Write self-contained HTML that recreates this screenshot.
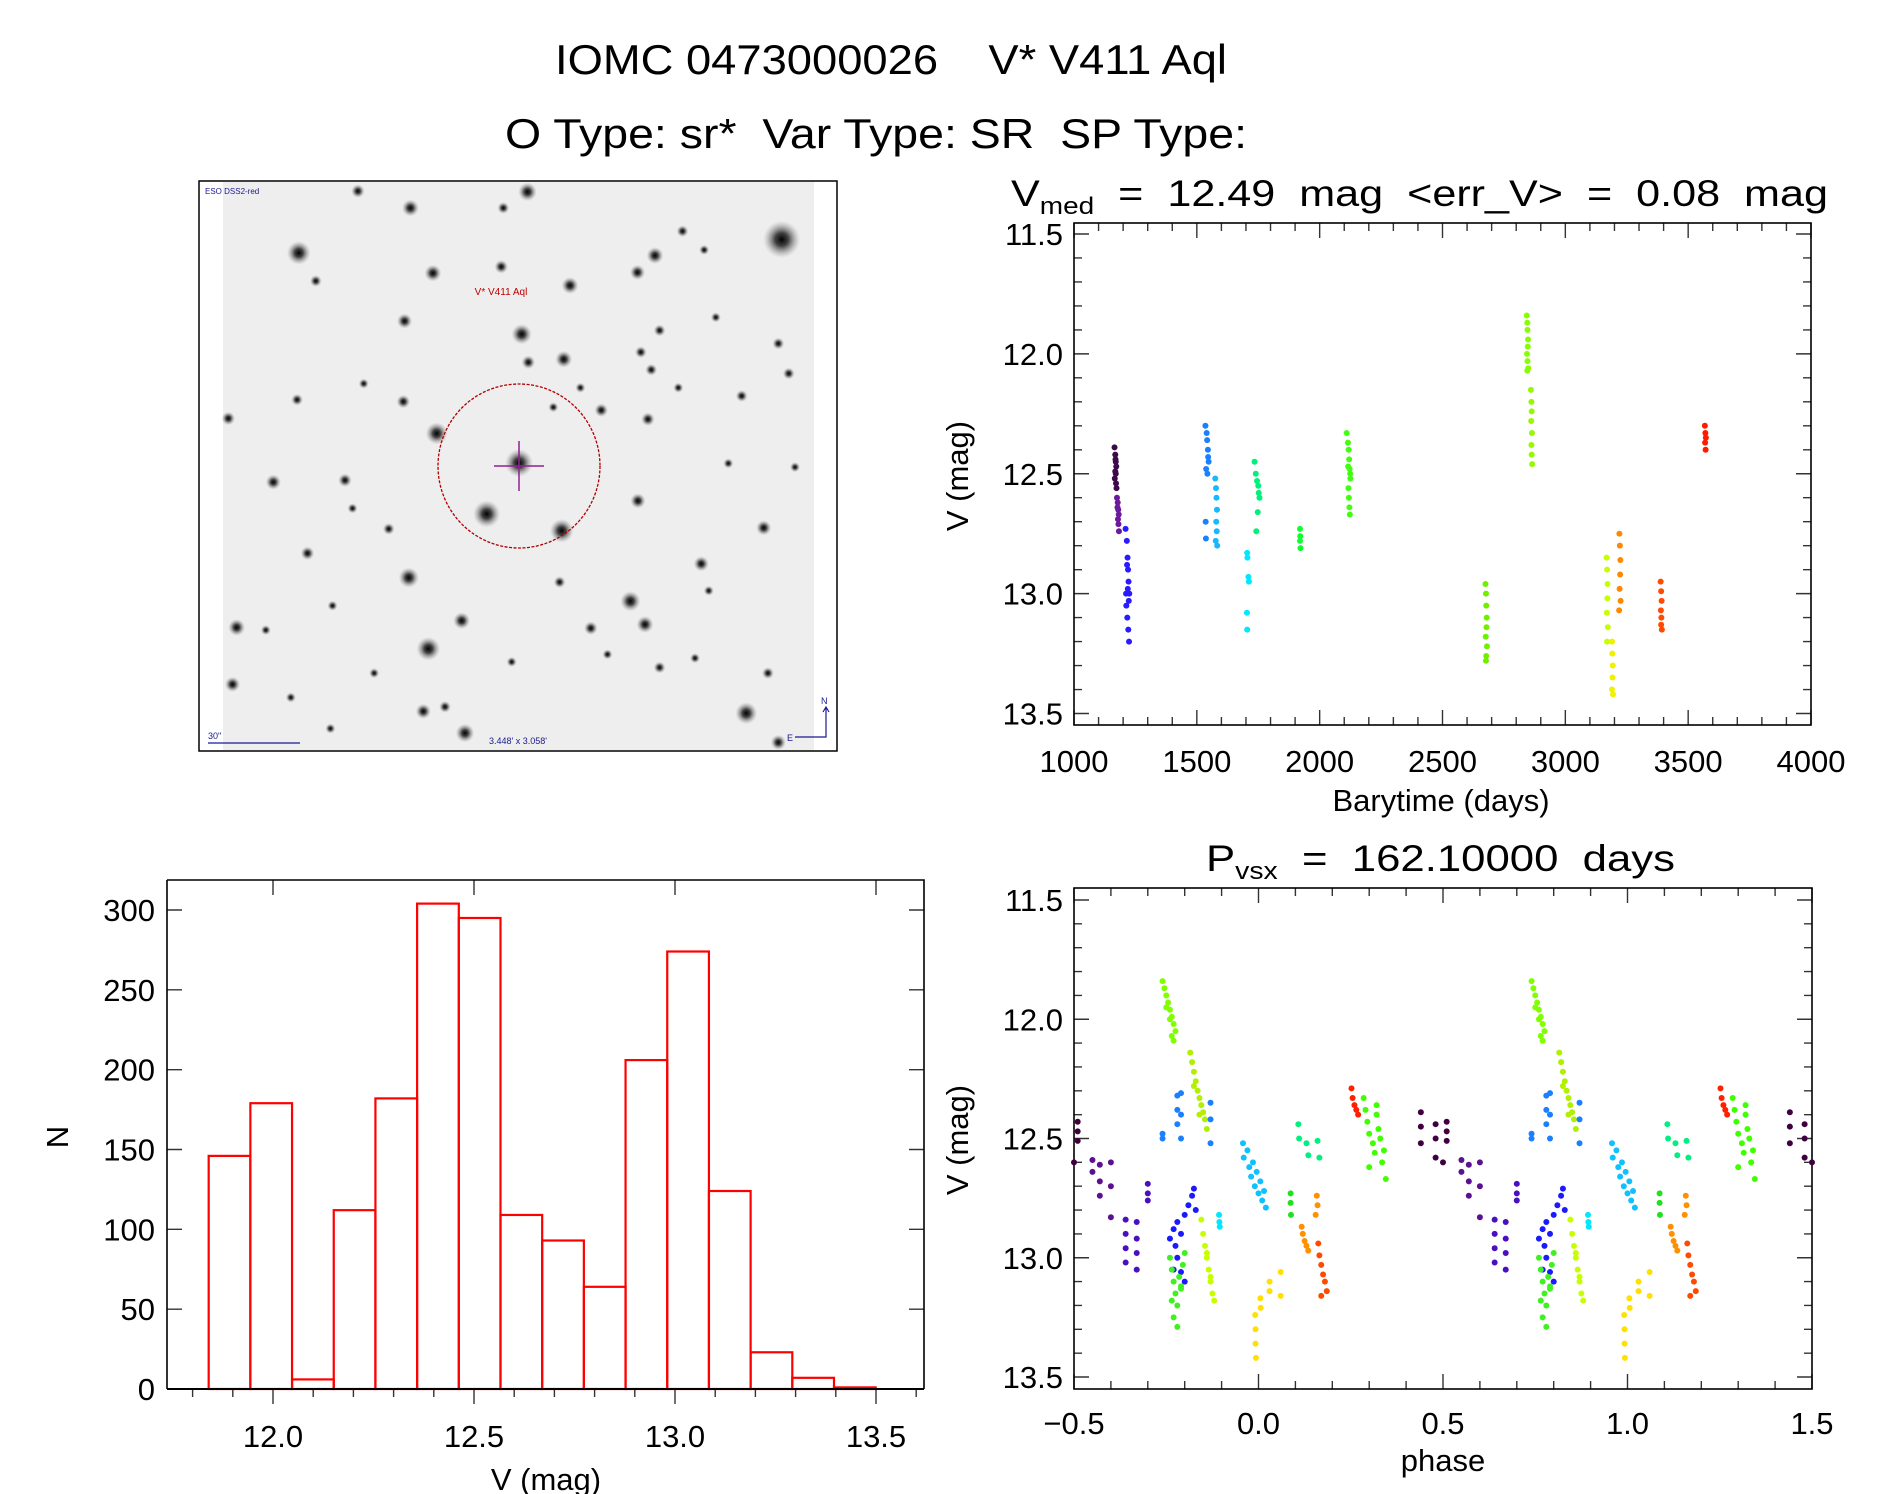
<!DOCTYPE html>
<html><head><meta charset="utf-8"><style>
html,body{margin:0;padding:0;background:#fff;}
svg{display:block;font-family:"Liberation Sans",sans-serif;}
text{white-space:pre;}
</style></head><body>
<svg id="root" width="1889" height="1494" viewBox="0 0 1889 1494" xmlns="http://www.w3.org/2000/svg" xml:space="preserve">
<rect width="1889" height="1494" fill="#fff"/>
<text x="891" y="74" font-size="42" text-anchor="middle" textLength="672" lengthAdjust="spacingAndGlyphs">IOMC 0473000026    V* V411 Aql</text>
<text x="876" y="148" font-size="42" text-anchor="middle" textLength="742" lengthAdjust="spacingAndGlyphs">O Type: sr*  Var Type: SR  SP Type:</text>
<g id="img"></g>
<g id="lc"></g>
<g id="hist"></g>
<g id="ph"></g>
</svg>
<script>
// ---------- data ----------
const histEdges0 = 11.84;
const histBinWidth = 0.1037;
const histCounts = [146,179,6,112,182,304,295,109,93,64,206,274,124,23,7,1];

const lcColors = ['#3c0a4a','#6a1a9a','#2a1aff','#1a80ff','#18b8ff','#00e8ff','#00f07a','#10ff30','#40ff10','#70f000','#88ff00','#98f800','#c8ff00','#f0f000','#ff8800','#ff4a00','#ff1a00'];
const lcT = [
[1165,1168,1170,1172,1168,1170,1166,1171,1173,1169],
[1175,1178,1180,1182,1179,1181,1183,1177],
[1210,1215,1218,1220,1222,1225,1213,1217,1221,1224,1219,1216,1223,1212],
[1535,1540,1542,1545,1548,1538,1543,1546,1536,1537],
[1575,1578,1580,1582,1579,1581,1577,1583],
[1705,1706,1710,1712,1704,1705],
[1735,1740,1745,1750,1752,1755,1748,1742],
[1920,1921,1920,1922],
[2110,2115,2118,2120,2122,2125,2117,2119,2121,2123,2116,2124],
[2675,2677,2678,2680,2679,2676,2681,2678,2677],
[2843,2845,2846,2848,2847,2844,2846,2849,2845],
[2860,2862,2863,2861,2864,2862,2863,2865],
[3168,3170,3172,3171,3169,3173,3170],
[3190,3191,3193,3192,3190,3194],
[3220,3222,3224,3223,3221,3225,3219],
[3388,3390,3392,3389,3391,3390,3393],
[3568,3570,3572,3569,3571]];
const lcV = [
[12.39,12.42,12.45,12.47,12.49,12.5,12.52,12.54,12.56,12.44],
[12.6,12.62,12.65,12.67,12.69,12.71,12.74,12.64],
[12.73,12.78,12.85,12.9,12.95,13.0,13.05,13.1,13.15,13.2,12.98,12.88,13.03,13.0],
[12.3,12.33,12.36,12.4,12.45,12.48,12.5,12.43,12.7,12.77],
[12.52,12.56,12.6,12.65,12.7,12.74,12.78,12.8],
[12.83,12.85,12.93,12.95,13.08,13.15],
[12.45,12.5,12.53,12.55,12.58,12.6,12.66,12.74],
[12.73,12.76,12.78,12.81],
[12.33,12.37,12.4,12.44,12.48,12.52,12.56,12.6,12.64,12.67,12.47,12.5],
[12.96,13.0,13.05,13.1,13.14,13.18,13.22,13.26,13.28],
[11.84,11.87,11.9,11.94,11.97,12.0,12.03,12.06,12.07],
[12.15,12.2,12.24,12.28,12.33,12.38,12.42,12.46],
[12.85,12.9,12.96,13.02,13.08,13.14,13.2],
[13.2,13.25,13.3,13.35,13.4,13.42],
[12.75,12.8,12.86,12.92,12.98,13.03,13.07],
[12.95,12.99,13.03,13.07,13.1,13.13,13.15],
[12.3,12.33,12.35,12.37,12.4]];

const phColors = ['#80ff00','#b0f000','#1a80ff','#400040','#5a1090','#4a10c0','#1a1aff','#40f020','#c8ff00','#00e8ff','#10c0ff','#00f080','#20e020','#ff9000','#ff4a00','#ffe000','#ff2000','#40ff00'];
const phP = [
[0.74,0.745,0.75,0.755,0.76,0.765,0.77,0.775,0.75,0.76,0.765,0.77],
[0.815,0.82,0.825,0.83,0.835,0.84,0.845,0.85,0.855,0.86,0.825,0.84],
[0.74,0.74,0.78,0.78,0.78,0.79,0.79,0.79,0.87,0.87,0.87],
[0.44,0.44,0.44,0.48,0.48,0.48,0.51,0.51,0.51,0.5],
[0.55,0.55,0.57,0.57,0.57,0.6,0.6,0.6],
[0.64,0.64,0.64,0.64,0.67,0.67,0.67,0.67,0.70,0.70,0.70],
[0.76,0.77,0.775,0.78,0.78,0.79,0.8,0.81,0.82,0.825,0.83,0.79,0.8,0.77],
[0.76,0.765,0.77,0.775,0.78,0.785,0.79,0.795,0.8,0.77,0.78,0.79,0.765],
[0.845,0.85,0.855,0.86,0.865,0.87,0.875,0.88,0.86,0.87],
[0.893,0.894,0.895],
[0.958,0.96,0.97,0.975,0.98,0.99,0.0,0.005,0.01,0.015,0.02,0.985,0.995],
[0.108,0.11,0.13,0.135,0.16,0.165],
[0.087,0.087,0.088],
[0.117,0.12,0.125,0.13,0.135,0.158,0.16,0.155],
[0.162,0.165,0.17,0.175,0.18,0.185,0.17],
[0.991,0.992,0.992,0.993,0.005,0.006,0.03,0.03,0.06,0.06],
[0.252,0.255,0.26,0.265,0.27],
[0.285,0.29,0.295,0.3,0.31,0.315,0.32,0.325,0.33,0.335,0.34,0.345,0.3,0.32]];
const phM = [
[11.84,11.87,11.9,11.93,11.96,11.99,12.02,12.05,11.95,12.0,12.07,12.09],
[12.14,12.18,12.22,12.26,12.3,12.33,12.36,12.39,12.42,12.46,12.28,12.4],
[12.48,12.5,12.32,12.38,12.44,12.31,12.4,12.5,12.35,12.42,12.52],
[12.39,12.45,12.52,12.44,12.5,12.58,12.43,12.47,12.51,12.6],
[12.59,12.64,12.61,12.68,12.74,12.6,12.7,12.83],
[12.84,12.9,12.96,13.02,12.85,12.92,12.98,13.05,12.69,12.73,12.76],
[12.92,12.88,12.95,13.0,12.85,12.9,12.82,12.78,12.74,12.71,12.8,13.06,13.1,13.05],
[13.0,13.05,13.1,13.15,13.2,13.08,13.12,13.03,12.98,13.25,13.29,13.13,13.18],
[12.84,12.9,12.95,13.0,13.05,13.1,13.15,13.18,12.98,13.08],
[12.82,12.85,12.87],
[12.52,12.58,12.55,12.62,12.66,12.7,12.73,12.68,12.76,12.72,12.79,12.6,12.64],
[12.44,12.5,12.52,12.57,12.51,12.58],
[12.73,12.77,12.82],
[12.87,12.9,12.93,12.95,12.97,12.74,12.78,12.82],
[12.94,12.99,13.03,13.07,13.1,13.14,13.16],
[13.24,13.3,13.36,13.42,13.17,13.21,13.1,13.14,13.06,13.16],
[12.29,12.33,12.36,12.38,12.4],
[12.33,12.38,12.43,12.48,12.52,12.56,12.4,12.46,12.5,12.6,12.55,12.67,12.62,12.36]];

const lcXTicks = ['1000','1500','2000','2500','3000','3500','4000'];
const magTicks = ['11.5','12.0','12.5','13.0','13.5'];
const phXTicks = ['\u22120.5','0.0','0.5','1.0','1.5'];
const histXTicks = ['12.0','12.5','13.0','13.5'];
const histYTicks = ['0','50','100','150','200','250','300'];

// stars (decorative finder image): [zoomX, zoomY, radius]
const stars = [[1408,172,22],[249,208,14],[784,425,12],[580,690,13],[700,905,16],[880,950,14],[513,1075,12],[560,1265,14],[1045,1138,12],[1323,1437,13],[648,1490,11],[798,45,11],[517,88,10],[1104,215,10],[1062,260,9],[900,295,10],[571,262,10],[503,390,9],[885,492,10],[800,500,8],[500,605,8],[975,628,8],[1087,652,8],[1063,870,9],[1365,942,9],[1215,1038,9],[1080,1200,10],[950,1210,8],[640,1190,10],[100,1208,10],[90,1360,9],[548,1432,9],[1400,1515,9],[188,820,9],[360,815,8],[270,1010,8],[80,650,8],[245,600,7],[290,283,7],[735,245,8],[391,43,8],[1312,590,7],[1400,450,7],[1425,530,7],[1115,415,7],[1095,520,7],[1070,473,7],[1375,1330,7],[1115,1315,7],[1233,1110,6],[875,1087,7],[465,945,7],[378,890,6],[1160,568,6],[925,568,6],[860,620,6],[1222,200,6],[740,88,7],[230,1395,6],[600,1420,7],[325,1478,6],[170,1215,6],[405,557,6],[1170,150,7],[1250,380,6],[1280,770,6],[1200,1290,6],[990,1280,6],[330,1150,6],[430,1330,6],[1440,780,6],[760,1300,6]];

// ---------- helpers ----------
const NS='http://www.w3.org/2000/svg';
function mk(parent,tag,attrs,txt){const e=document.createElementNS(NS,tag);for(const k in attrs)e.setAttribute(k,attrs[k]);if(txt!==undefined)e.textContent=txt;parent.appendChild(e);return e;}
function lin(d0,d1,p0,p1){return v=>p0+(v-d0)*(p1-p0)/(d1-d0);}

// ---------- finder image ----------
(function(){
 const g=document.getElementById('img');
 const ox=195, oy=175, sx=1/2.4, sy=1/2.67;
 const defs=mk(g,'defs',{});
 const rg=mk(defs,'radialGradient',{id:'starg'});
 mk(rg,'stop',{offset:'0','stop-color':'#000','stop-opacity':'1'});
 mk(rg,'stop',{offset:'0.35','stop-color':'#222','stop-opacity':'0.85'});
 mk(rg,'stop',{offset:'1','stop-color':'#999','stop-opacity':'0'});
 let e=mk(g,'rect',{x:199,y:181,width:638,height:570,fill:'#fff',stroke:'#000','stroke-width':1.5});
 
 e=mk(g,'rect',{x:223,y:182,width:591,height:568,fill:'#eeeeee'});
 
 stars.forEach(s=>{
  const c=mk(g,'circle',{cx:ox+s[0]*sx,cy:oy+s[1]*sy,r:s[2]*0.85,fill:'url(#starg)'});
  
  
 });
 e=mk(g,'ellipse',{cx:519,cy:466,rx:81,ry:82,fill:'none',stroke:'#b00000','stroke-width':1.3,'stroke-dasharray':'3 1.5'});
 
 e=mk(g,'circle',{cx:519,cy:463,r:14,fill:'url(#starg)'});
 
 e=mk(g,'path',{d:'M494 466H544M519 441V491',stroke:'#902090','stroke-width':1.5});
 
 e=mk(g,'text',{x:501,y:295,'font-size':10,fill:'#c00000','text-anchor':'middle'},'V* V411 Aql');
 
 e=mk(g,'text',{x:205,y:194,'font-size':8,fill:'#1a1a90'},'ESO DSS2-red');
 
 e=mk(g,'text',{x:208,y:739,'font-size':9,fill:'#1a1a90'},'30"');
 
 e=mk(g,'path',{d:'M208 743H300',stroke:'#1a1a90','stroke-width':1.2});
 
 e=mk(g,'text',{x:518,y:744,'font-size':9,fill:'#1a1a90','text-anchor':'middle'},"3.448' x 3.058'");
 
 e=mk(g,'path',{d:'M795 737H826V708M823 712L826 707L829 712',stroke:'#1a1a90','stroke-width':1.2,fill:'none'});
 
 e=mk(g,'text',{x:821,y:704,'font-size':9,fill:'#1a1a90'},'N');
 
 e=mk(g,'text',{x:787,y:741,'font-size':9,fill:'#1a1a90'},'E');
 
})();

// ---------- generic axes ----------
function frame(g,L,T,R,B){
 const e=mk(g,'rect',{x:L,y:T,width:R-L,height:B-T,fill:'none',stroke:'#000','stroke-width':1.6});
 
}
function tickLine(g,d){mk(g,'path',{d:d,stroke:'#333','stroke-width':1.4});}

// ---------- light curve ----------
(function(){
 const g=document.getElementById('lc');
 const L=1074,R=1811,T=223,B=725;
 const x=lin(1000,4000,L,R), y=lin(11.5,13.5,234,713.5);
 for(let v=1000;v<=4000;v+=100){const maj=(v%500===0);const len=maj?15:8;tickLine(g,`M${x(v)} ${B}V${B-len}M${x(v)} ${T}V${T+len}`);}
 for(let i=0;i<=20;i++){const v=11.5+i*0.1;const len=(i%5===0)?15:8;tickLine(g,`M${L} ${y(v)}H${L+len}M${R} ${y(v)}H${R-len}`);}
 frame(g,L,T,R,B);
 lcXTicks.forEach(t=>{const e=mk(g,'text',{x:x(+t),y:772,'font-size':31,'text-anchor':'middle'},t);
  });
 magTicks.forEach(t=>{const e=mk(g,'text',{x:1063,y:y(+t)+11,'font-size':31,'text-anchor':'end'},t);
  });
 let e=mk(g,'text',{x:1441,y:811,'font-size':31,'text-anchor':'middle'},'Barytime (days)');
 
 e=mk(g,'text',{x:0,y:0,'font-size':31,'text-anchor':'middle',transform:'translate(968,476) rotate(-90)'},'V (mag)');
 
 e=mk(g,'text',{x:1011,y:206,'font-size':37},'');
 
 e.innerHTML='V<tspan font-size="24" dy="8">med</tspan><tspan dy="-8">  =  12.49  mag  &lt;err_V&gt;  =  0.08  mag</tspan>';
 e.setAttribute('textLength','817');e.setAttribute('lengthAdjust','spacingAndGlyphs');
 lcT.forEach((ts,gi)=>{ts.forEach((t,i)=>{
  const c=mk(g,'circle',{cx:x(t),cy:y(lcV[gi][i]),r:3,fill:lcColors[gi]});
  
  
 });});
})();

// ---------- histogram ----------
(function(){
 const g=document.getElementById('hist');
 const L=167,R=924,T=880,B=1389;
 const x=lin(12.0,13.5,273,876), y=lin(0,300,1389,910);
 histCounts.forEach((n,i)=>{
  const a=histEdges0+i*histBinWidth;
  const r=mk(g,'rect',{x:x(a),y:y(n),width:x(a+histBinWidth)-x(a),height:B-y(n),fill:'none',stroke:'#ff0000','stroke-width':2.2});
  
  
 });
 for(let i=0;i<=18;i++){const v=11.8+i*0.1;if(x(v)>R)break;const maj=(i===2||i===7||i===12||i===17);const len=maj?15:8;tickLine(g,`M${x(v)} ${B}V${B+len}`);if(maj)tickLine(g,`M${x(v)} ${T}V${T+len}`);}
 for(let v=0;v<=300;v+=50){tickLine(g,`M${L} ${y(v)}H${L+15}M${R} ${y(v)}H${R-15}`);}
 mk(g,'path',{d:`M${L} ${T}H${R}V${B}M${L} ${T}V${B}`,stroke:'#000','stroke-width':1.6,fill:'none'});
 mk(g,'path',{d:`M${L} ${B}H${R}`,stroke:'#000','stroke-width':2});
 histXTicks.forEach(t=>{const e=mk(g,'text',{x:x(+t),y:1447,'font-size':31,'text-anchor':'middle'},t);
  });
 histYTicks.forEach(t=>{const e=mk(g,'text',{x:155,y:y(+t)+11,'font-size':31,'text-anchor':'end'},t);
  });
 let e=mk(g,'text',{x:546,y:1490,'font-size':31,'text-anchor':'middle'},'V (mag)');
 
 e=mk(g,'text',{x:0,y:0,'font-size':31,'text-anchor':'middle',transform:'translate(68,1137) rotate(-90)'},'N');
 
})();

// ---------- phase plot ----------
(function(){
 const g=document.getElementById('ph');
 const L=1074,R=1812,T=888,B=1389;
 const x=lin(-0.5,1.5,L,R), y=lin(11.5,13.5,900,1377);
 for(let i=0;i<=20;i++){const v=-0.5+i*0.1;const len=(i%5===0)?15:8;tickLine(g,`M${x(v)} ${B}V${B-len}M${x(v)} ${T}V${T+len}`);}
 for(let i=0;i<=20;i++){const v=11.5+i*0.1;const len=(i%5===0)?15:8;tickLine(g,`M${L} ${y(v)}H${L+len}M${R} ${y(v)}H${R-len}`);}
 frame(g,L,T,R,B);
 phXTicks.forEach(t=>{const e=mk(g,'text',{x:x(parseFloat(t.replace('\u2212','-'))),y:1434,'font-size':31,'text-anchor':'middle'},t);
  });
 magTicks.forEach(t=>{const e=mk(g,'text',{x:1063,y:y(+t)+11,'font-size':31,'text-anchor':'end'},t);
  });
 let e=mk(g,'text',{x:1443,y:1471,'font-size':31,'text-anchor':'middle'},'phase');
 
 e=mk(g,'text',{x:0,y:0,'font-size':31,'text-anchor':'middle',transform:'translate(968,1140) rotate(-90)'},'V (mag)');
 
 e=mk(g,'text',{x:1206,y:871,'font-size':37},'');
 
 e.innerHTML='P<tspan font-size="24" dy="8">vsx</tspan><tspan dy="-8">  =  162.10000  days</tspan>';
 e.setAttribute('textLength','469');e.setAttribute('lengthAdjust','spacingAndGlyphs');
 phP.forEach((ps,gi)=>{ps.forEach((p,i)=>{
  [-1,0,1].forEach(k=>{const q=p+k;if(q<-0.5||q>1.5)return;
   const c=mk(g,'circle',{cx:x(q),cy:y(phM[gi][i]),r:3,fill:phColors[gi]});
   
   
  });
 });});
})();
</script>
</body></html>
